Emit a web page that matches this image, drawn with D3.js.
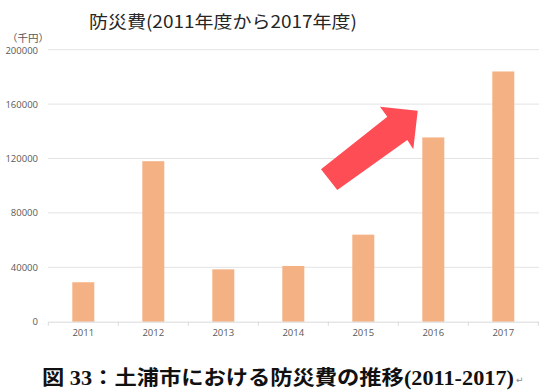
<!DOCTYPE html>
<html><head><meta charset="utf-8">
<script src="https://cdn.jsdelivr.net/npm/d3@7"></script>
<style>body{margin:0;background:#fff;}svg{display:block;}</style>
</head><body>
<script>
const years = ["2011","2012","2013","2014","2015","2016","2017"];
const values = [29000, 118000, 38500, 41000, 64000, 135500, 184000];
const yTicks = [0, 40000, 80000, 120000, 160000, 200000];
const titleText = "防災費(2011年度から2017年度)";
const unitText = "（千円）";
const captionText = "図 33：土浦市における防災費の推移(2011‐2017)";

const W = 542, H = 392;
const svg = d3.select("body").append("svg").attr("width", W).attr("height", H);
const x = d3.scaleBand().domain(years).range([48.3, 538.3]).paddingInner(0.686).paddingOuter(0.343);
const y = d3.scaleLinear().domain([0, 200000]).range([321.7, 49.7]);

// gridlines
svg.append("g").selectAll("line").data(yTicks.filter(d => d > 0)).join("line")
  .attr("x1", 48).attr("x2", 539).attr("y1", d => y(d)).attr("y2", d => y(d))
  .attr("stroke", "#e3e3e3").attr("stroke-width", 1);

// y labels
const yAxis = d3.axisLeft(y).tickValues(yTicks).tickSize(0).tickPadding(0).tickFormat(d3.format("d"));
const gy = svg.append("g").attr("transform", "translate(38,0)").call(yAxis);
gy.select(".domain").remove();
gy.selectAll("text").attr("font-family", "Open Sans, Noto Sans, sans-serif").attr("font-size", 9.5).attr("fill", "#595959")
  .attr("dy", (d) => d === 200000 ? "0.45em" : "0.32em");

// bars
svg.append("g").selectAll("rect").data(values).join("rect")
  .attr("x", (d, i) => x(years[i])).attr("width", x.bandwidth())
  .attr("y", d => y(d)).attr("height", d => y(0) - y(d))
  .attr("fill", "#F4B183");

// x axis
const xAxis = d3.axisBottom(x).tickSize(0).tickPadding(8);
const gx = svg.append("g").attr("transform", `translate(0,${y(0)})`).call(xAxis);
gx.select(".domain").attr("stroke", "#d9d9d9");
gx.selectAll("text").attr("font-family", "Open Sans, Noto Sans, sans-serif").attr("font-size", 9.5).attr("fill", "#595959");
const step = x.step();
const bounds = d3.range(years.length + 1).map(i => 48.3 + i * step);
svg.append("g").selectAll("line").data(bounds).join("line")
  .attr("x1", d => d).attr("x2", d => d).attr("y1", y(0)).attr("y2", y(0) + 4)
  .attr("stroke", "#d9d9d9");

// arrow (shape annotation)
const arrowPts = [[321, 169.3],[387.3,116.7],[380,106.7],[417.7,110.7],[413.3,149.3],[407.3,140],[337.3,190]];
svg.append("path").attr("d", d3.line()(arrowPts) + "Z").attr("fill", "#FF4D55");

// title
svg.append("text").attr("x", 89).attr("y", 28).text(titleText)
  .attr("font-family", "Noto Sans CJK JP, sans-serif").attr("font-size", 17.5).attr("fill", "#262626")
  .attr("textLength", 268).attr("lengthAdjust", "spacingAndGlyphs");
svg.append("text").attr("x", 7).attr("y", 42).text(unitText)
  .attr("font-family", "Noto Sans CJK JP, sans-serif").attr("font-size", 10).attr("fill", "#595959")
  .attr("textLength", 42).attr("lengthAdjust", "spacingAndGlyphs");

// caption
svg.append("text").attr("x", 42).attr("y", 385).text(captionText)
  .attr("font-family", "Liberation Serif, Noto Sans CJK JP, serif").attr("font-size", 20).attr("font-weight", 600).attr("fill", "#111")
  .attr("textLength", 472).attr("lengthAdjust", "spacingAndGlyphs");
svg.append("text").attr("x", 516).attr("y", 383).text("↵")
  .attr("font-family", "DejaVu Sans, sans-serif").attr("font-size", 9).attr("fill", "#888");
</script>
</body></html>
